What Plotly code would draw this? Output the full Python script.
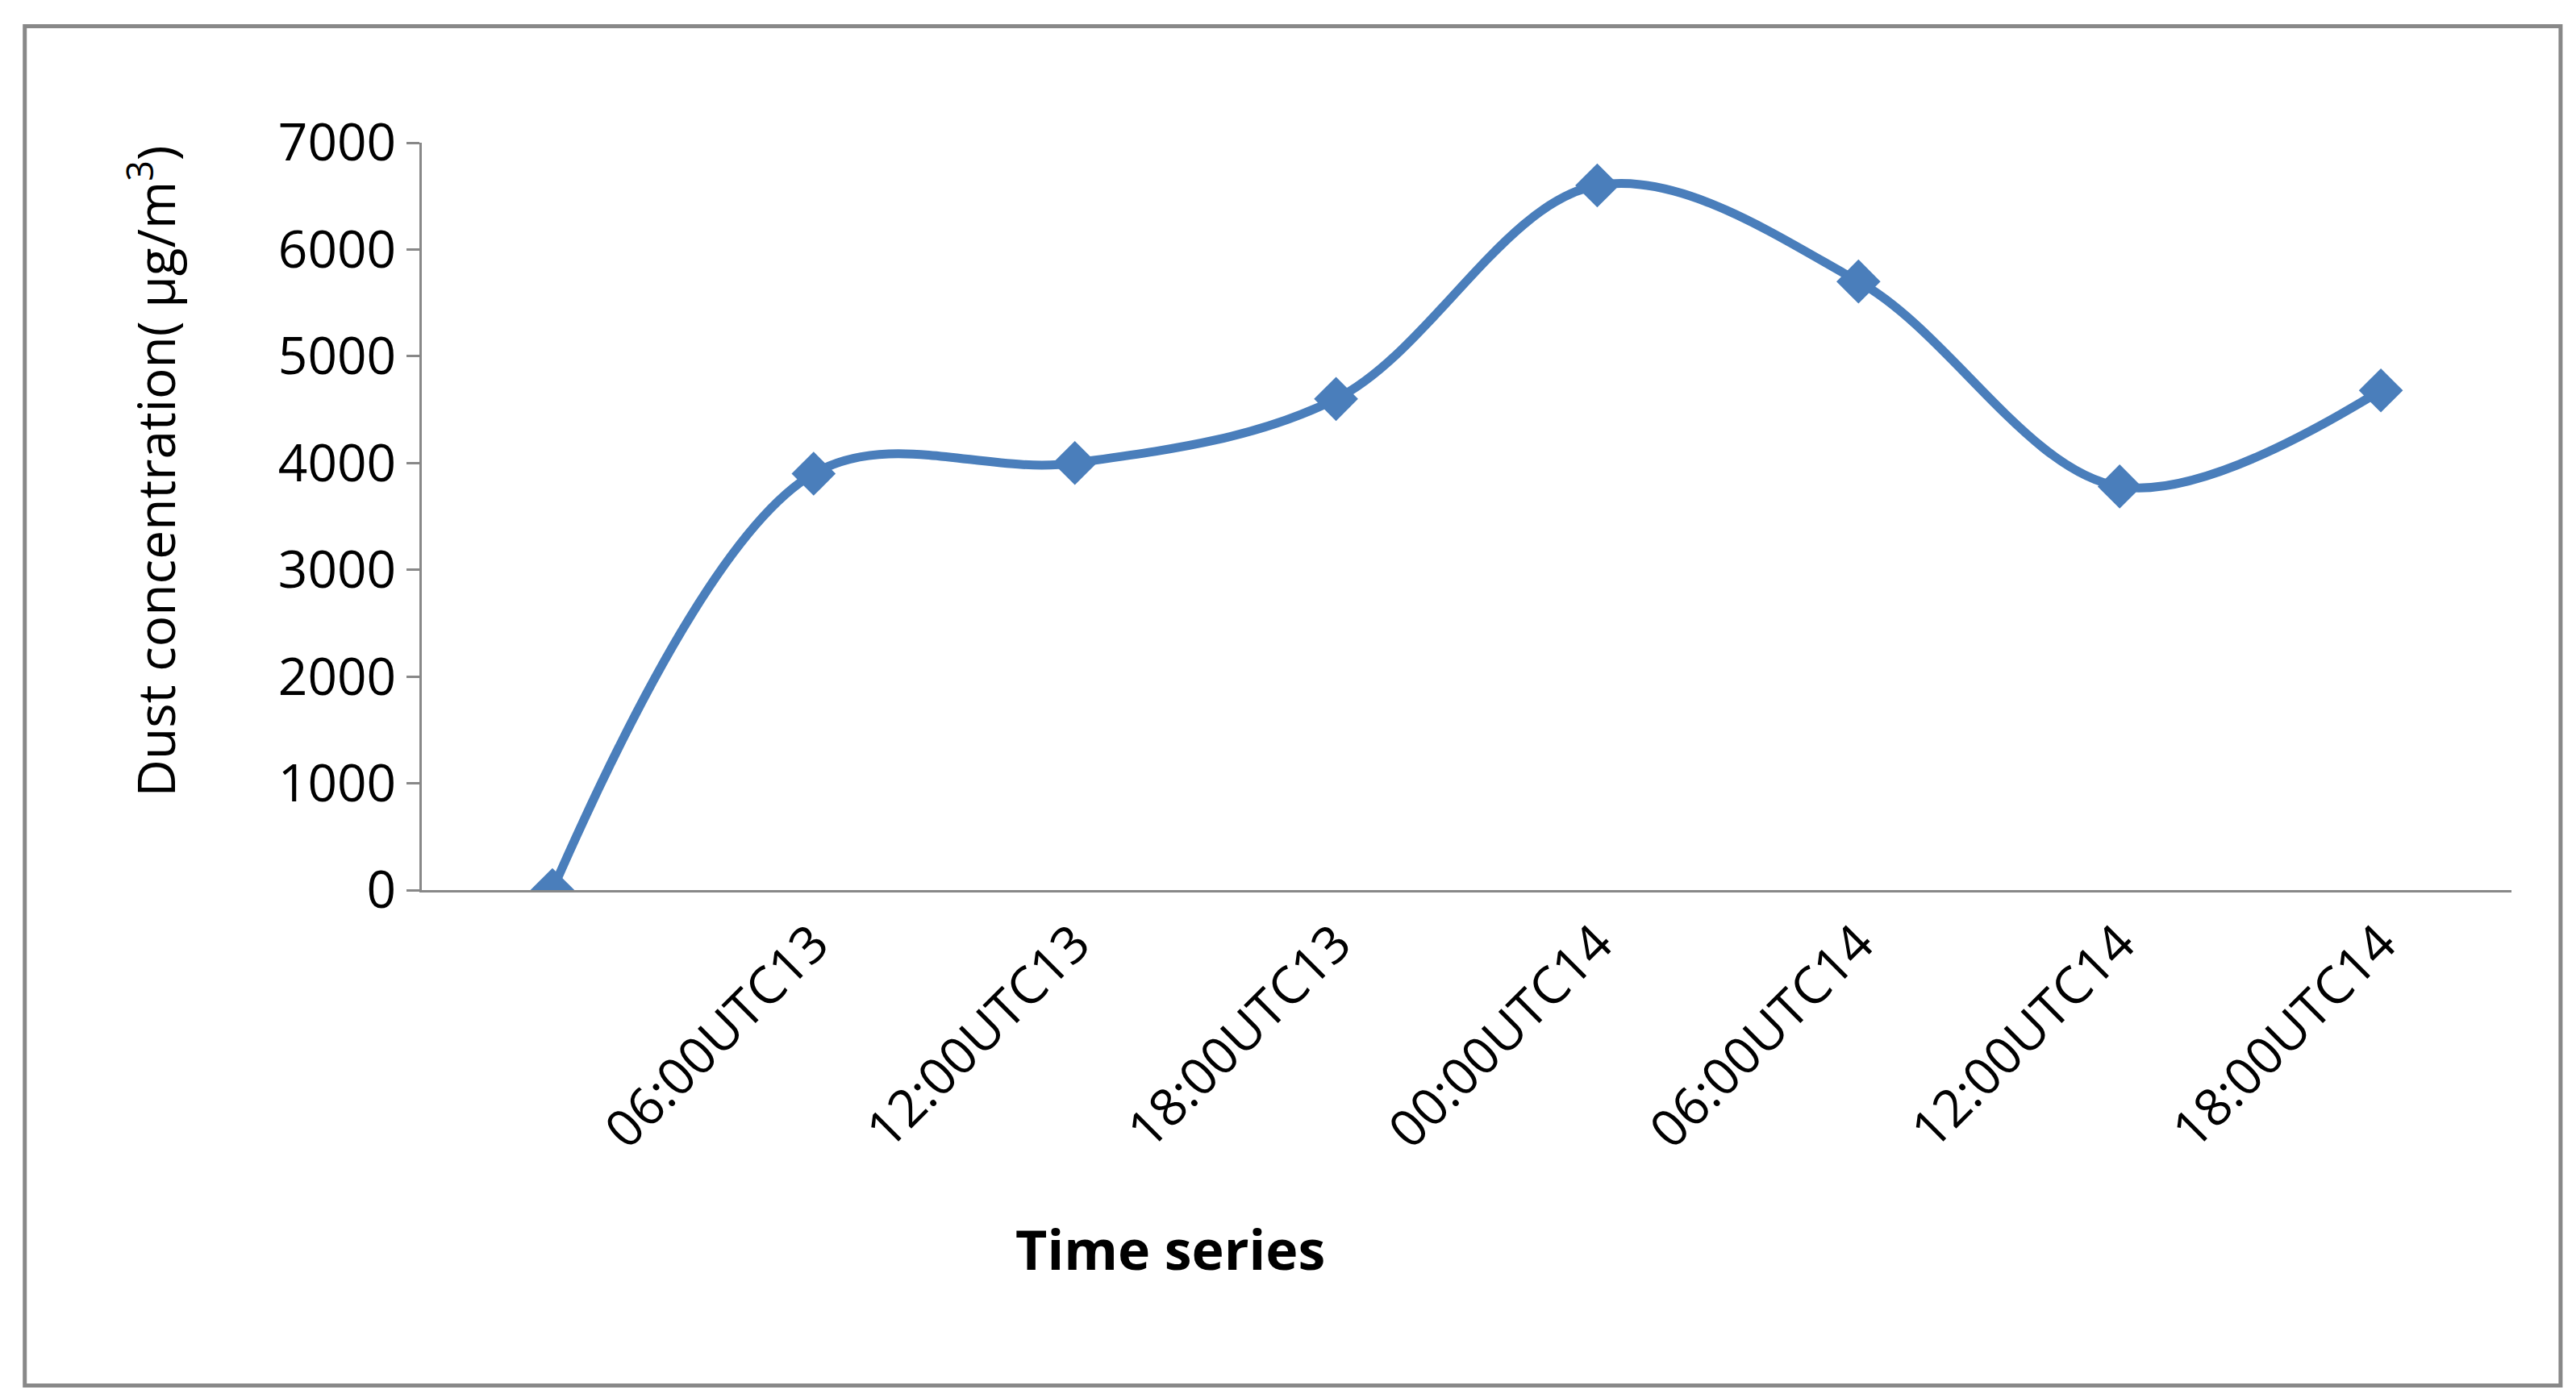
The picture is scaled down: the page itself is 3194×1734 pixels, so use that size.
import plotly.graph_objects as go

categories = ["", "06:00UTC13", "12:00UTC13", "18:00UTC13", "00:00UTC14", "06:00UTC14", "12:00UTC14", "18:00UTC14"]
values = [0, 3900, 4000, 4600, 6600, 5700, 3780, 4680]
yticks = [0, 1000, 2000, 3000, 4000, 5000, 6000, 7000]

fig = go.Figure(go.Scatter(
    x=list(range(len(categories))), y=values, mode="lines+markers",
    line=dict(color="#4a7ebb", width=11, shape="spline", smoothing=1.0),
    marker=dict(symbol="diamond", size=42, color="#4a7ebb"),
))
font = "Open Sans, Liberation Sans, sans-serif"
fig.update_layout(
    width=3194, height=1734, paper_bgcolor="white", plot_bgcolor="white",
    margin=dict(l=515, r=88, t=169, b=638), showlegend=False,
    font=dict(family=font, size=64, color="black"),
    xaxis=dict(range=[-0.5, 7.5], tickmode="array", tickvals=list(range(len(categories))),
               ticktext=categories, tickangle=-45, showgrid=False, zeroline=False,
               showline=True, linecolor="#888", linewidth=3, ticks="", tickfont=dict(size=64)),
    yaxis=dict(range=[0, 7000], tickvals=yticks, showgrid=False, zeroline=False,
               showline=True, linecolor="#888", linewidth=3, ticks="outside", ticklen=16,
               tickcolor="#888", tickwidth=3, tickfont=dict(size=64)),
    annotations=[
        dict(text="<b>Time series</b>", xref="paper", yref="paper", x=0.358, y=-0.532,
             showarrow=False, font=dict(size=68)),
        dict(text="Dust concentration( µg/m<sup>3</sup>)", xref="paper", yref="paper",
             x=-0.148, y=0.56, textangle=-90, showarrow=False, font=dict(size=64)),
    ],
    shapes=[dict(type="rect", xref="paper", yref="paper", x0=-0.19, x1=1.0235, y0=-0.663, y1=1.156,
                 line=dict(color="#888", width=5))],
)
fig.write_html("out.html")
